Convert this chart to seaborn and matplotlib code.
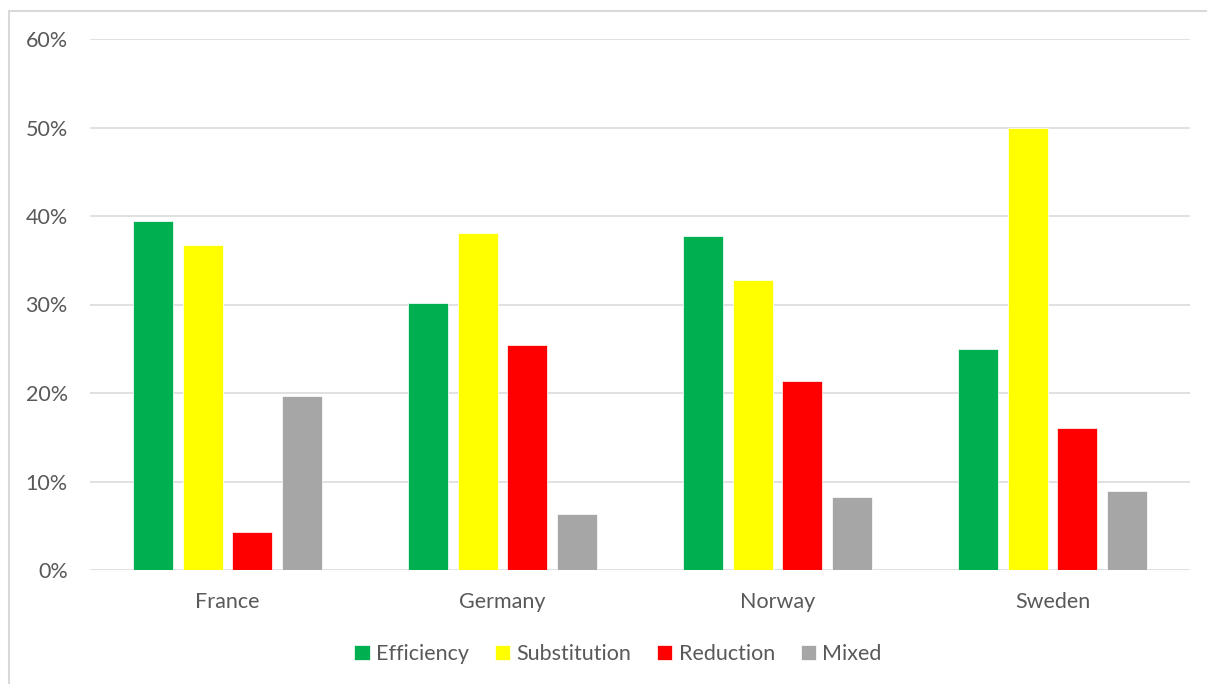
import matplotlib
matplotlib.use("Agg")
import matplotlib.pyplot as plt
from matplotlib.lines import Line2D
from matplotlib.ticker import PercentFormatter
import seaborn as sns
import pandas as pd

countries = ["France", "Germany", "Norway", "Sweden"]
series = ["Efficiency", "Substitution", "Reduction", "Mixed"]
efficiency = [0.394, 0.302, 0.377, 0.250]
substitution = [0.367, 0.381, 0.328, 0.500]
reduction = [0.043, 0.254, 0.214, 0.160]
mixed = [0.197, 0.063, 0.082, 0.089]
colors = ["#00B050", "#FFFF00", "#FF0000", "#A6A6A6"]
yticks = [0, 0.1, 0.2, 0.3, 0.4, 0.5, 0.6]

rows = []
for name, vals in zip(series, [efficiency, substitution, reduction, mixed]):
    for c, v in zip(countries, vals):
        rows.append({"Country": c, "Type": name, "Value": v})
df = pd.DataFrame(rows)

sns.set_theme(style="white")
plt.rcParams["font.family"] = ["Lato", "DejaVu Sans"]
text_color = "#595959"

fig = plt.figure(figsize=(12.07, 6.84), dpi=100)
ax = fig.add_axes([90 / 1207, 1 - 570 / 684, 1100 / 1207, 531 / 684])

sns.barplot(data=df, x="Country", y="Value", hue="Type", order=countries,
            hue_order=series, palette=colors, width=0.727, gap=0.2,
            saturation=1, errorbar=None, ax=ax, legend=True,
            edgecolor="white", linewidth=0.5)

ax.set_ylim(0, 0.6)
ax.set_xlim(-0.5, 3.5)
ax.set_yticks(yticks)
ax.yaxis.set_major_formatter(PercentFormatter(1.0, decimals=0))
ax.grid(axis="y", color="#D9D9D9", linewidth=1.1)
ax.set_axisbelow(True)
for s in ax.spines.values():
    s.set_visible(False)
ax.tick_params(axis="y", length=0, pad=16, labelsize=15.5, labelcolor=text_color)
ax.tick_params(axis="x", length=0, pad=16, labelsize=15.5, labelcolor=text_color)
ax.set_xlabel("")
ax.set_ylabel("")

handles, labels = ax.get_legend_handles_labels()
ax.legend_.remove()
leg = fig.legend(handles, labels, loc="center", bbox_to_anchor=(618 / 1207, 1 - 654 / 684),
                 ncol=4, frameon=False, fontsize=15.5, handlelength=0.7, handleheight=0.7,
                 handletextpad=0.3, columnspacing=1.2, labelcolor=text_color)

# outer chart border (left and top edges visible)
x0, y0 = 8.5 / 1207, 1 - 10.5 / 684
fig.lines.append(Line2D([x0, x0], [0, y0], transform=fig.transFigure,
                        color="#D9D9D9", linewidth=1.5))
fig.lines.append(Line2D([x0, 1], [y0, y0], transform=fig.transFigure,
                        color="#D9D9D9", linewidth=1.5))

fig.savefig("out.png", dpi=100, facecolor="white")
